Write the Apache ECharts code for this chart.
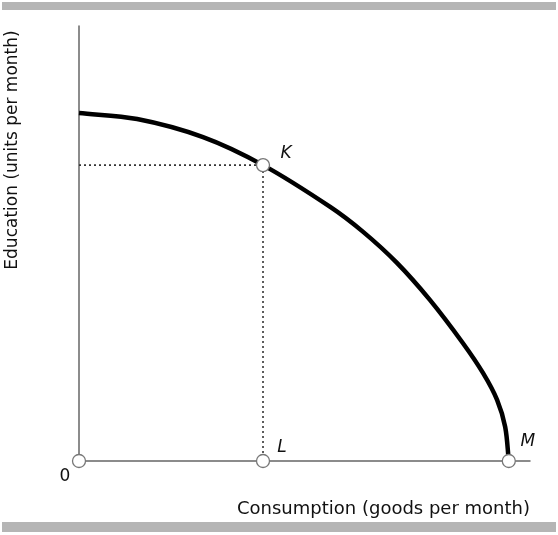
<!DOCTYPE html>
<html>
<head>
<meta charset="utf-8">
<script src="https://cdn.jsdelivr.net/npm/echarts@6/dist/echarts.min.js"></script>
<style>html,body{margin:0;padding:0;background:#fff;}#c{width:558px;height:535px;}</style>
</head>
<body>
<div id="c"></div>
<script>
// Production possibilities frontier (arbitrary units, 0..100 on each axis)
var curveX = [0, 12.9, 27.5, 40.8, 55.7, 63.0, 70.5, 77.8, 85.1, 89.6, 92.7, 94.5, 95.3];
var curveY = [80.8, 79.4, 75.2, 68.7, 59.0, 53.2, 46.0, 37.4, 27.4, 20.4, 14.2, 7.9, 0];
var pointNames = ['0', 'L', 'M', 'K'];
var pointX = [0, 40.8, 95.3, 40.8];
var pointY = [0, 0, 0, 68.7];
var guideX = [0, 40.8, 40.8];
var guideY = [68.7, 68.7, 0];
var xTitle = 'Consumption (goods per month)';
var yTitle = 'Education (units per month)';

var FONT = '"DejaVu Sans", "Open Sans", sans-serif';
var chart = echarts.init(document.getElementById('c'), null, {renderer: 'canvas'});
var labelOffsets = {'0': [-14, 16], 'L': [19, -13], 'M': [19, -19], 'K': [23, -12]};

var pts = pointNames.map(function (n, i) {
  return {
    value: [pointX[i], pointY[i]],
    name: n,
    label: {
      show: true,
      formatter: n,
      position: 'inside',
      offset: labelOffsets[n],
      color: '#111',
      fontSize: 17,
      fontFamily: FONT,
      fontStyle: n === '0' ? 'normal' : 'italic'
    }
  };
});

function dist(a, b) { return Math.sqrt((a[0] - b[0]) * (a[0] - b[0]) + (a[1] - b[1]) * (a[1] - b[1])); }

// smooth curve through the data points (chord-weighted cardinal spline), in pixel space via api.coord
function renderCurve(params, api) {
  if (params.dataIndex !== 0) return null;
  var p = [];
  for (var i = 0; i < curveX.length; i++) p.push(api.coord([curveX[i], curveY[i]]));
  var outCp = [], inCp = [];
  for (var k = 0; k < p.length; k++) {
    var prev = p[k - 1] || p[k], next = p[k + 1] || p[k];
    var d0 = dist(prev, p[k]), d1 = dist(p[k], next), s = d0 + d1 || 1;
    var vx = next[0] - prev[0], vy = next[1] - prev[1];
    outCp.push([p[k][0] + vx * d1 / (3 * s), p[k][1] + vy * d1 / (3 * s)]);
    inCp.push([p[k][0] - vx * d0 / (3 * s), p[k][1] - vy * d0 / (3 * s)]);
  }
  var d = 'M' + p[0][0] + ' ' + p[0][1];
  for (var j = 0; j < p.length - 1; j++) {
    d += ' C' + outCp[j][0] + ' ' + outCp[j][1] + ' ' + inCp[j + 1][0] + ' ' + inCp[j + 1][1] + ' ' + p[j + 1][0] + ' ' + p[j + 1][1];
  }
  return {
    type: 'path',
    shape: {pathData: d},
    style: {fill: null, stroke: '#000', lineWidth: 4.5, lineJoin: 'round', lineCap: 'butt'}
  };
}

chart.setOption({
  animation: false,
  backgroundColor: '#fff',
  grid: {left: 79, right: 28, top: 26, bottom: 74},
  xAxis: {
    type: 'value', min: 0, max: 100,
    axisLine: {show: true, lineStyle: {color: '#666', width: 1.5}},
    axisTick: {show: false}, axisLabel: {show: false}, splitLine: {show: false}
  },
  yAxis: {
    type: 'value', min: 0, max: 101,
    axisLine: {show: true, lineStyle: {color: '#666', width: 1.5}},
    axisTick: {show: false}, axisLabel: {show: false}, splitLine: {show: false}
  },
  graphic: [
    {type: 'rect', shape: {x: 2, y: 2, width: 554, height: 8}, style: {fill: '#b5b5b5'}},
    {type: 'rect', shape: {x: 2, y: 522, width: 554, height: 10}, style: {fill: '#b5b5b5'}},
    {type: 'text', x: 530, y: 509, style: {text: xTitle, fill: '#111', font: '18px ' + FONT, textAlign: 'right', textVerticalAlign: 'middle'}},
    {type: 'text', x: 13, y: 150, rotation: Math.PI / 2, style: {text: yTitle, fill: '#111', font: '17px ' + FONT, textAlign: 'center', textVerticalAlign: 'middle'}}
  ],
  series: [
    {
      type: 'line',
      data: guideX.map(function (x, i) { return [x, guideY[i]]; }),
      showSymbol: false,
      lineStyle: {color: '#333', width: 1.6, type: [2, 3]},
      z: 1
    },
    {
      type: 'custom',
      data: curveX.map(function (x, i) { return [x, curveY[i]]; }),
      encode: {x: 0, y: 1},
      renderItem: renderCurve,
      clip: false,
      silent: true,
      z: 2
    },
    {
      type: 'scatter',
      data: pts,
      symbol: 'circle',
      symbolSize: 13,
      itemStyle: {color: '#fff', borderColor: '#777', borderWidth: 1.3, opacity: 1},
      z: 3
    }
  ]
});
</script>
</body>
</html>
